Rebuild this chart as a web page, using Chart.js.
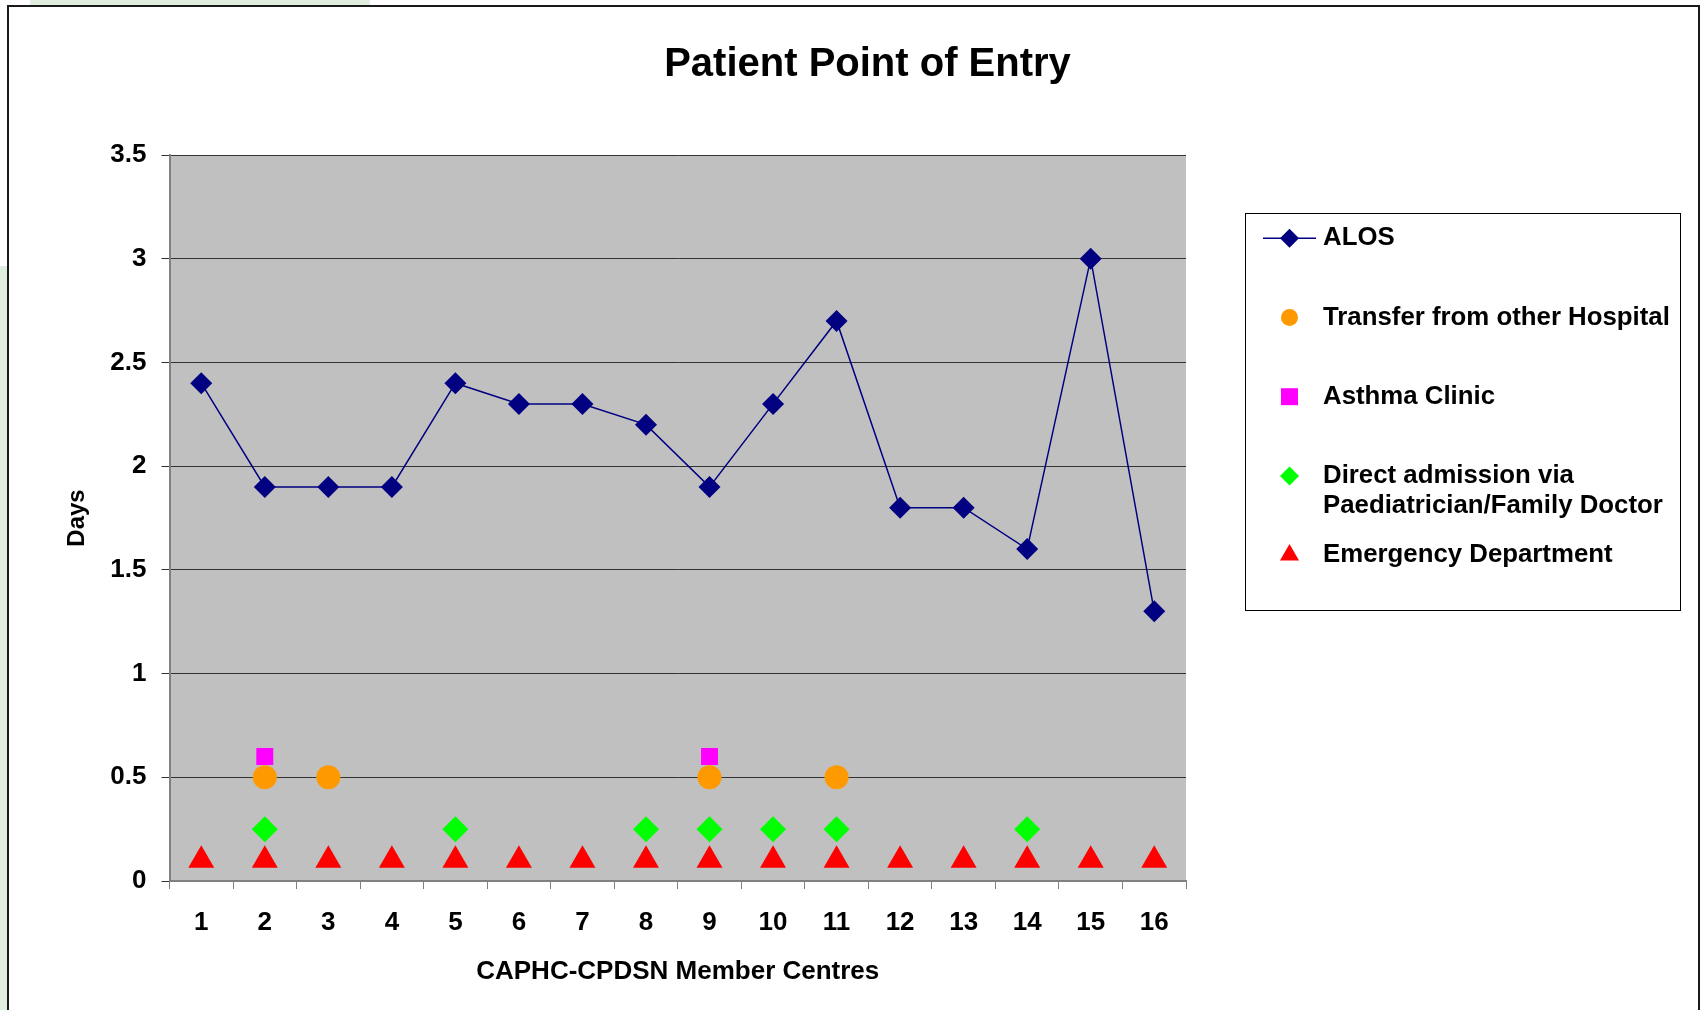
<!DOCTYPE html>
<html>
<head>
<meta charset="utf-8">
<title>Patient Point of Entry</title>
<script src="https://cdn.jsdelivr.net/npm/chart.js@4/dist/chart.umd.min.js"></script>
<style>
  html, body { margin: 0; padding: 0; background: #fff; overflow: hidden; }
  .tint-top { position: absolute; left: 30px; top: 0; width: 340px; height: 6px; background: #dfeedf; }
  .tint-left { position: absolute; left: 0; top: 266px; width: 7px; height: 744px; background: #dfeedf; }
  .frame {
    position: absolute; left: 7px; top: 5px;
    width: 1689px; height: 1003px;
    border: 2px solid #1a1a1a; border-bottom: none;
    background: #fff;
  }
  canvas { display: block; }
</style>
</head>
<body>
<div class="tint-top"></div>
<div class="tint-left"></div>
<div class="frame"><canvas id="myChart" width="1689" height="1003"></canvas></div>
<script>
// data
const centres = ['1', '2', '3', '4', '5', '6', '7', '8', '9', '10', '11', '12', '13', '14', '15', '16'];
const alos      = [2.4, 1.9, 1.9, 1.9, 2.4, 2.3, 2.3, 2.2, 1.9, 2.3, 2.7, 1.8, 1.8, 1.6, 3.0, 1.3];
const transfer  = [null, 0.5, 0.5, null, null, null, null, null, 0.5, null, 0.5, null, null, null, null, null];
const asthma    = [null, 0.6, null, null, null, null, null, null, 0.6, null, null, null, null, null, null, null];
const direct    = [null, 0.25, null, null, 0.25, null, null, 0.25, 0.25, 0.25, 0.25, null, null, 0.25, null, null];
const emergency = [0.1, 0.1, 0.1, 0.1, 0.1, 0.1, 0.1, 0.1, 0.1, 0.1, 0.1, 0.1, 0.1, 0.1, 0.1, 0.1];

const seriesNames = [
  ['ALOS'],
  ['Transfer from other Hospital'],
  ['Asthma Clinic'],
  ['Direct admission via', 'Paediatrician/Family Doctor'],
  ['Emergency Department']
];

Chart.defaults.font.family = "'Liberation Sans', Arial, sans-serif";
Chart.defaults.color = '#000';

// grey plot area like the Excel original
const plotBg = {
  id: 'plotBg',
  beforeDraw(chart) {
    const { ctx, chartArea: a } = chart;
    ctx.save();
    ctx.fillStyle = '#c0c0c0';
    ctx.fillRect(a.left, a.top, a.width, a.height);
    ctx.restore();
  }
};

// boxed legend on the right, one row per series
const boxLegend = {
  id: 'boxLegend',
  afterDraw(chart) {
    const ctx = chart.ctx;
    ctx.save();
    ctx.strokeStyle = '#000';
    ctx.lineWidth = 1;
    ctx.strokeRect(1236.5, 206.5, 435, 397);
    ctx.font = "bold 25.8px 'Liberation Sans', Arial, sans-serif";
    ctx.textBaseline = 'middle';
    ctx.textAlign = 'left';
    chart.data.datasets.forEach((ds, i) => {
      const y = 231.3 + i * 79.2;
      const mx = 1280.5;
      if (ds.showLine !== false) {
        ctx.strokeStyle = ds.borderColor;
        ctx.lineWidth = 1.5;
        ctx.beginPath();
        ctx.moveTo(1254, y);
        ctx.lineTo(1307, y);
        ctx.stroke();
      }
      ctx.fillStyle = ds.pointBackgroundColor;
      ctx.strokeStyle = ds.pointBackgroundColor;
      ctx.lineWidth = 0;
      Chart.helpers.drawPoint(ctx, {
        pointStyle: ds.pointStyle,
        radius: ds.legendRadius,
        borderWidth: 0,
        rotation: 0
      }, mx, y);
      ctx.fillStyle = '#000';
      seriesNames[i].forEach((line, k) => ctx.fillText(line, 1314, y + k * 29.5));
    });
    ctx.restore();
  }
};

const ctx1 = document.getElementById('myChart');

new Chart(ctx1, {
  type: 'line',
  data: {
    labels: centres,
    datasets: [{
      label: seriesNames[0].join(' '),
      data: alos,
      borderColor: '#000080',
      borderWidth: 1.5,
      pointStyle: 'rectRot',
      pointRadius: 11,
      legendRadius: 9.5,
      pointBackgroundColor: '#000080',
      pointBorderWidth: 0,
      tension: 0
    },
    {
      label: seriesNames[1].join(' '),
      data: transfer,
      showLine: false,
      pointStyle: 'circle',
      pointRadius: 12,
      legendRadius: 8.5,
      pointBackgroundColor: '#ff9900',
      pointBorderWidth: 0
    },
    {
      label: seriesNames[2].join(' '),
      data: asthma,
      showLine: false,
      pointStyle: 'rect',
      pointRadius: 12,
      legendRadius: 12,
      pointBackgroundColor: '#ff00ff',
      pointBorderWidth: 0
    },
    {
      label: seriesNames[3].join(' '),
      data: direct,
      showLine: false,
      pointStyle: 'rectRot',
      pointRadius: 13,
      legendRadius: 9.5,
      pointBackgroundColor: '#00ff00',
      pointBorderWidth: 0
    },
    {
      label: seriesNames[4].join(' '),
      data: emergency,
      showLine: false,
      pointStyle: 'triangle',
      pointRadius: 15,
      legendRadius: 11,
      pointBackgroundColor: '#ff0000',
      pointBorderWidth: 0
    }]
  },
  options: {
    responsive: false,
    animation: false,
    devicePixelRatio: 1,
    layout: { padding: { left: 28, right: 0, top: 0, bottom: 0 } },
    plugins: {
      legend: { display: false },
      tooltip: { enabled: false },
      title: {
        display: true,
        text: 'Patient Point of Entry',
        color: '#000',
        font: { size: 40, weight: 'bold' },
        padding: { top: 34, bottom: 66 }
      }
    },
    scales: {
      x: {
        offset: true,
        grid: {
          display: true,
          offset: true,
          drawOnChartArea: false,
          tickLength: 8,
          color: '#808080'
        },
        border: { color: '#808080', width: 2 },
        ticks: { padding: 18, font: { size: 26, weight: 'bold' }, color: '#000', maxRotation: 0 },
        title: {
          display: true,
          text: 'CAPHC-CPDSN Member Centres',
          font: { size: 26, weight: 'bold' },
          color: '#000',
          padding: { top: 0, bottom: 23 }
        },
        afterFit(s) { s.height = 129; }
      },
      y: {
        min: 0,
        max: 3.5,
        ticks: {
          stepSize: 0.5,
          padding: 15,
          font: { size: 26, weight: 'bold' },
          color: '#000',
          callback: (v) => String(v)
        },
        grid: { color: '#333', tickColor: '#333', tickLength: 8, lineWidth: 1 },
        border: { color: '#808080', width: 2 },
        title: {
          display: true,
          text: 'Days',
          font: { size: 24, weight: 'bold' },
          color: '#000',
          padding: { top: 26, bottom: 0 }
        },
        afterFit(s) { s.width = 132.5; }
      },
      // empty space on the right that holds the boxed legend
      legendSpace: {
        type: 'linear',
        position: 'right',
        display: true,
        grid: { display: false },
        border: { display: false },
        ticks: { display: false },
        afterFit(s) { s.width = 512; }
      }
    }
  },
  plugins: [plotBg, boxLegend]
});
</script>
</body>
</html>
